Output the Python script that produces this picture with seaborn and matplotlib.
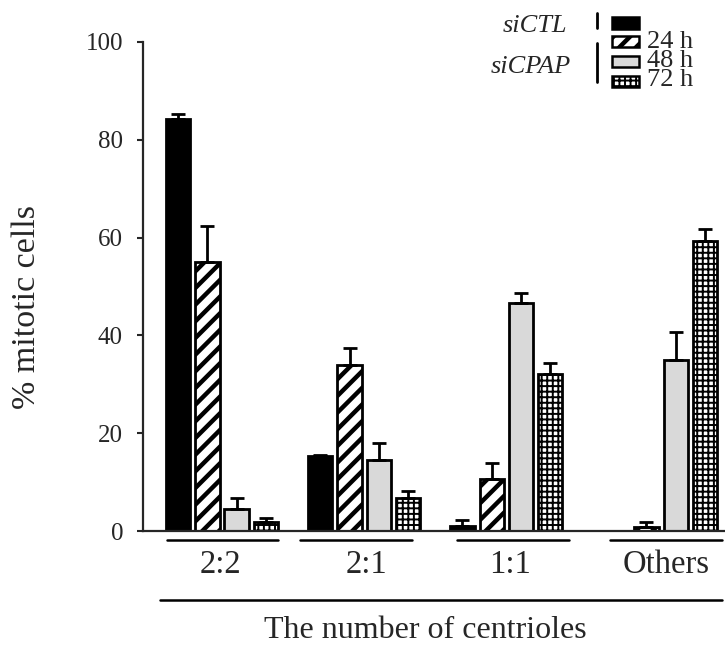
import matplotlib
matplotlib.use("Agg")
import matplotlib.pyplot as plt
import seaborn as sns
import pandas as pd
import numpy as np
from matplotlib.patches import Rectangle
from matplotlib.lines import Line2D
import matplotlib.transforms as mtransforms

# ---- data ----
groups = ["2:2", "2:1", "1:1", "Others"]
conditions = ["siCTL", "24 h", "48 h", "72 h"]
vals_ctl = [84.2, 15.3, 1.1, 0.0]
vals_24 = [55.0, 34.0, 10.6, 0.9]
vals_48 = [4.5, 14.5, 46.7, 34.9]
vals_72 = [1.8, 6.7, 32.2, 59.3]
err_ctl = [1.0, 0.3, 1.1, np.nan]
err_24 = [7.4, 3.5, 3.4, 1.0]
err_48 = [2.2, 3.5, 2.0, 5.8]
err_72 = [0.8, 1.5, 2.2, 2.5]

values = [vals_ctl, vals_24, vals_48, vals_72]
errors = [err_ctl, err_24, err_48, err_72]

rows = []
for c, vs in zip(conditions, values):
    for g, v in zip(groups, vs):
        rows.append({"group": g, "condition": c, "value": v})
df = pd.DataFrame(rows)

sns.set_style("ticks")
plt.rcParams["font.family"] = ["Liberation Serif", "DejaVu Serif"]
plt.rcParams["hatch.color"] = "black"

W, H = 725, 648
fig = plt.figure(figsize=(W / 100, H / 100), dpi=100)
ax = fig.add_axes([143 / W, 1 - 531 / H, (W - 143) / W, (531 - 42) / H])

face_colors = ["black", "white", "#d9d9d9", "white"]
hatches = [None, "//", None, "+++"]
hatch_lw = [1.0, 3.2, 1.0, 1.4]
group_shift = [0.0, 0.0, 0.0, 0.09]   # layout: last group sits a little further right

sns.barplot(data=df, x="group", y="value", hue="condition", order=groups,
            hue_order=conditions, palette=face_colors, edgecolor="black",
            linewidth=2, gap=0.17, width=0.82, errorbar=None, ax=ax,
            legend=False, saturation=1)

bar_containers = list(ax.containers)
for i, cont in enumerate(bar_containers):
    xs, hs = [], []
    for j, bar in enumerate(cont.patches):
        bar.set_x(bar.get_x() + group_shift[j])
        bar.set_facecolor(face_colors[i])
        bar.set_edgecolor("black")
        if hatches[i]:
            bar.set_hatch(hatches[i])
            try:
                bar.set_hatch_linewidth(hatch_lw[i])
            except AttributeError:
                pass
        xs.append(bar.get_x() + bar.get_width() / 2)
        hs.append(bar.get_height())
    e = np.array(errors[i], dtype=float)
    ax.errorbar(xs, hs, yerr=[np.zeros_like(e), e], fmt="none", ecolor="black",
                elinewidth=2, capsize=4.7, capthick=2, zorder=1)

ax.set_ylim(0, 100)
ax.set_xlim(-0.556, 3.54)
ax.set_yticks([0, 20, 40, 60, 80, 100])
ax.set_xticks([-0.014, 1.014, 2.025, 3.125])
ax.set_xticklabels(groups)
ax.tick_params(axis="y", labelsize=18, length=4, width=1.5, direction="out", pad=10.4)
ax.tick_params(axis="x", labelsize=23.5, length=0, pad=13)
ax.set_xlabel("")
ax.set_ylabel("")
for s in ["top", "right"]:
    ax.spines[s].set_visible(False)
ax.spines["left"].set_linewidth(1.6)
ax.spines["bottom"].set_linewidth(1.6)

# group underlines
trans = mtransforms.blended_transform_factory(ax.transData, ax.transAxes)
underlines = [(-0.387, 0.394), (0.549, 1.338), (1.655, 2.444), (2.732, 3.521)]
for a, b in underlines:
    ax.add_line(Line2D([a, b], [-0.0184, -0.0184], transform=trans,
                       color="black", lw=1.8, clip_on=False))
ax.add_line(Line2D([-0.437, 3.521], [-0.141, -0.141], transform=trans,
                   color="black", lw=1.8, clip_on=False))

def fx(x):
    return x / W

def fy(y):
    return 1 - y / H

fig.text(fx(425), fy(631), "The number of centrioles", ha="center", va="center", fontsize=23)
fig.text(fx(27), fy(307), "% mitotic cells", ha="center", va="center", rotation=90, fontsize=24.5)

# legend (custom)
leg_rects = [(17, 29), (36, 47), (56, 67), (76, 87)]
for (y0, y1), fc, ht, hl in zip(leg_rects, face_colors, hatches, hatch_lw):
    r = Rectangle((fx(612), fy(y1)), fx(639) - fx(612), fy(y0) - fy(y1),
                  transform=fig.transFigure, facecolor=fc, edgecolor="black",
                  lw=1.8, hatch=ht)
    if ht:
        try:
            r.set_hatch_linewidth(hl)
        except AttributeError:
            pass
    fig.add_artist(r)
for lab, yc in zip(["24 h", "48 h", "72 h"], [42, 61, 80]):
    fig.text(fx(647), fy(yc), lab, ha="left", va="center", fontsize=19)
fig.text(fx(535), fy(26), "siCTL", ha="center", va="center", fontsize=19, style="italic")
fig.text(fx(531), fy(67), "siCPAP", ha="center", va="center", fontsize=19, style="italic")
fig.add_artist(Line2D([fx(597), fx(597)], [fy(13), fy(28)], transform=fig.transFigure,
                      color="black", lw=2))
fig.add_artist(Line2D([fx(597), fx(597)], [fy(43), fy(82)], transform=fig.transFigure,
                      color="black", lw=2))

fig.savefig("out.png", dpi=100)
